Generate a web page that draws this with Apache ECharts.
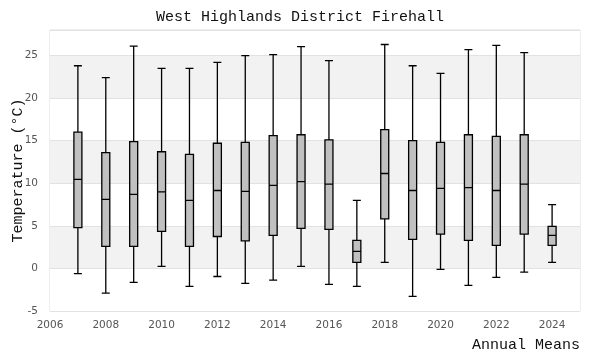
<!DOCTYPE html>
<html>
<head>
<meta charset="utf-8">
<script src="https://cdn.jsdelivr.net/npm/echarts@6/dist/echarts.min.js"></script>
<style>html,body{margin:0;padding:0;background:#fff}#c{width:600px;height:360px}</style>
</head>
<body>
<div id="c"></div>
<script>
const years   = [2007, 2008, 2009, 2010, 2011, 2012, 2013, 2014, 2015, 2016, 2017, 2018, 2019, 2020, 2021, 2022, 2023, 2024];
const mins    = [-0.6, -2.9, -1.65, 0.23, -2.1, -0.95, -1.76, -1.37, 0.23, -1.88, -2.1, 0.7, -3.29, -0.12, -2.0, -1.06, -0.43, 0.7];
const q1s     = [4.8, 2.6, 2.6, 4.35, 2.6, 3.75, 3.24, 3.87, 4.7, 4.58, 0.7, 5.82, 3.4, 4.03, 3.29, 2.7, 4.03, 2.7];
const medians = [10.45, 8.1, 8.7, 9.0, 8.0, 9.15, 9.04, 9.75, 10.2, 9.9, 2.0, 11.15, 9.15, 9.4, 9.5, 9.15, 9.9, 3.87];
const q3s     = [16.0, 13.6, 14.9, 13.7, 13.4, 14.7, 14.8, 15.6, 15.7, 15.1, 3.29, 16.3, 15.0, 14.8, 15.7, 15.5, 15.7, 4.93];
const maxs    = [23.8, 22.4, 26.1, 23.5, 23.5, 24.2, 25.0, 25.1, 26.05, 24.4, 7.98, 26.3, 23.8, 22.9, 25.7, 26.2, 25.35, 7.5];

const titleText = 'West Highlands District Firehall';
const yName = 'Temperature (°C)';
const xName = 'Annual Means';

const boxData = years.map((y, i) => [y, mins[i], q1s[i], medians[i], q3s[i], maxs[i]]);

const mono = "'Liberation Mono', monospace";
const chart = echarts.init(document.getElementById('c'), null, {renderer: 'canvas'});
chart.setOption({
  animation: false,
  backgroundColor: '#fff',
  title: [{
    text: titleText, left: 'center', top: 5,
    textStyle: {fontFamily: mono, fontSize: 15, fontWeight: 'normal', color: '#111'}
  }, {
    text: xName, right: 20, top: 338, padding: 0,
    textStyle: {fontFamily: mono, fontSize: 15, fontWeight: 'normal', color: '#111'}
  }],
  grid: {left: 50, right: 20, top: 30, bottom: 49, containLabel: false, outerBoundsMode: 'none',
         show: true, borderColor: '#dddddd', borderWidth: 1, backgroundColor: 'transparent'},
  xAxis: {
    type: 'value', min: 2006, max: 2025, interval: 2,
    axisLine: {show: false}, axisTick: {show: false}, splitLine: {show: false},
    axisLabel: {showMaxLabel: false, color: '#555', fontSize: 10.5, fontFamily: "'DejaVu Sans', sans-serif", margin: 9, formatter: v => String(v)}
  },
  yAxis: {
    type: 'value', min: -5, max: 28, interval: 5,
    name: yName, nameLocation: 'middle', nameGap: 24, nameRotate: 90, nameMoveOverlap: false,
    nameTextStyle: {fontFamily: mono, fontSize: 15, color: '#111'},
    axisLine: {show: false}, axisTick: {show: false},
    splitLine: {show: true, lineStyle: {color: '#e2e2e2', width: 1}},
    splitArea: {show: true, areaStyle: {color: ['#ffffff', '#f2f2f2']}},
    axisLabel: {showMaxLabel: false, color: '#555', fontSize: 10.5, fontFamily: "'DejaVu Sans', sans-serif", margin: 12}
  },
  series: [{
    type: 'boxplot',
    data: boxData,
    boxWidth: [8, 8],
    itemStyle: {color: '#c0c0c0', borderColor: '#000', borderWidth: 1.3}
  }]
});
</script>
</body>
</html>
